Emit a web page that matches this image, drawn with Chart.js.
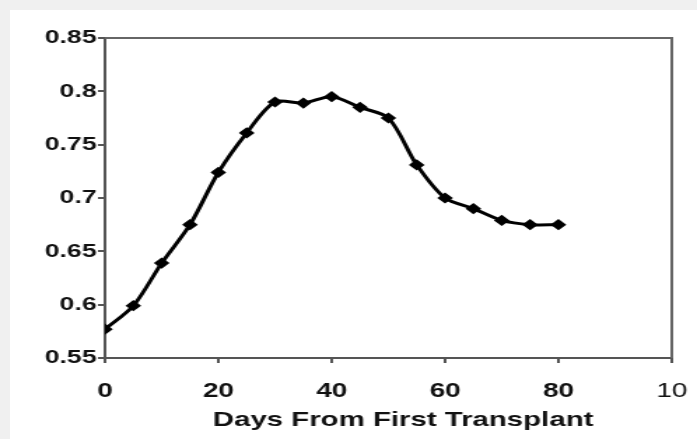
<!DOCTYPE html>
<html>
<head>
<meta charset="utf-8">
<script src="https://cdn.jsdelivr.net/npm/chart.js@4"></script>
<style>
  html, body { margin: 0; padding: 0; background: #f0f0f0; overflow: hidden; }
  #paper { position: absolute; left: 10px; top: 10px; width: 687px; height: 429px; background: #fff; }
  #wrap { position: absolute; left: 0; top: 0; width: 498px; height: 439px;
          transform: scaleX(1.3996); transform-origin: 0 0; }
</style>
</head>
<body>
<div id="paper"></div>
<div id="wrap"><canvas id="lineChart" width="498" height="439"></canvas></div>
<script>
// days after first transplant and the measured ratio
var days = [0, 5, 10, 15, 20, 25, 30, 35, 40, 45, 50, 55, 60, 65, 70, 75, 80];
var ratio = [0.577, 0.599, 0.639, 0.675, 0.724, 0.761, 0.790, 0.789, 0.795,
             0.785, 0.775, 0.731, 0.700, 0.690, 0.679, 0.675, 0.675];
var xTickLabels = ['0', '20', '40', '60', '80', '10'];
var yTickLabels = ['0.55', '0.6', '0.65', '0.7', '0.75', '0.8', '0.85'];
var xTitle = 'Days From First Transplant';

var points = days.map(function (d, i) { return { x: d, y: ratio[i] }; });

// box round the plot area plus the axis title
var frame = {
    id: 'frame',
    afterDraw: function (chart) {
        var c = chart.ctx, a = chart.chartArea;
        c.save();
        c.strokeStyle = '#666';
        c.lineWidth = 2;
        c.beginPath();
        c.moveTo(a.left, a.top);
        c.lineTo(a.right, a.top);
        c.lineTo(a.right, a.bottom);
        c.stroke();
        c.fillStyle = '#111';
        c.font = 'bold 21px "Liberation Sans", Arial, sans-serif';
        c.textAlign = 'center';
        c.textBaseline = 'middle';
        c.fillText(xTitle, (a.left + a.right) / 2 + 10.5, 420);
        c.restore();
    }
};

var ctx = document.getElementById('lineChart').getContext('2d');
var chart = new Chart(ctx, {
    type: 'scatter',
    data: {
        datasets: [{
            data: points,
            showLine: true,
            borderColor: '#000',
            backgroundColor: '#000',
            borderWidth: 3,
            tension: 0.3,
            pointStyle: 'rectRot',
            pointRadius: 3.5,
            pointHoverRadius: 3.5
        }]
    },
    options: {
        responsive: false,
        animation: false,
        devicePixelRatio: 1,
        layout: { padding: { top: 38, right: 18, left: 0, bottom: 0 } },
        plugins: { legend: { display: false }, tooltip: { enabled: false } },
        scales: {
            x: {
                type: 'linear',
                min: 0,
                max: 100,
                afterFit: function (s) { s.height = 81; s.paddingLeft = 0; s.paddingRight = 0; },
                grid: { drawOnChartArea: false, color: '#555', tickLength: 5, lineWidth: 2 },
                border: { color: '#555', width: 2 },
                ticks: {
                    stepSize: 20,
                    maxRotation: 0,
                    padding: 16,
                    color: '#111',
                    font: function (c) {
                        return c.index === 5
                            ? { family: '"Liberation Sans", Arial', size: 20, weight: 'normal' }
                            : { family: '"Liberation Sans", Arial', size: 20, weight: 'bold' };
                    },
                    callback: function (v, i) { return xTickLabels[i]; }
                }
            },
            y: {
                min: 0.55,
                max: 0.85,
                afterFit: function (s) { s.width = 75; s.paddingTop = 0; s.paddingBottom = 0; },
                grid: { drawOnChartArea: false, color: '#555', tickLength: 5, lineWidth: 2 },
                border: { color: '#555', width: 2 },
                ticks: {
                    stepSize: 0.05,
                    padding: 1,
                    color: '#111',
                    font: { family: '"Liberation Sans", Arial', size: 19, weight: 'bold' },
                    callback: function (v, i) { return yTickLabels[i]; }
                }
            }
        }
    },
    plugins: [frame]
});
</script>
</body>
</html>
